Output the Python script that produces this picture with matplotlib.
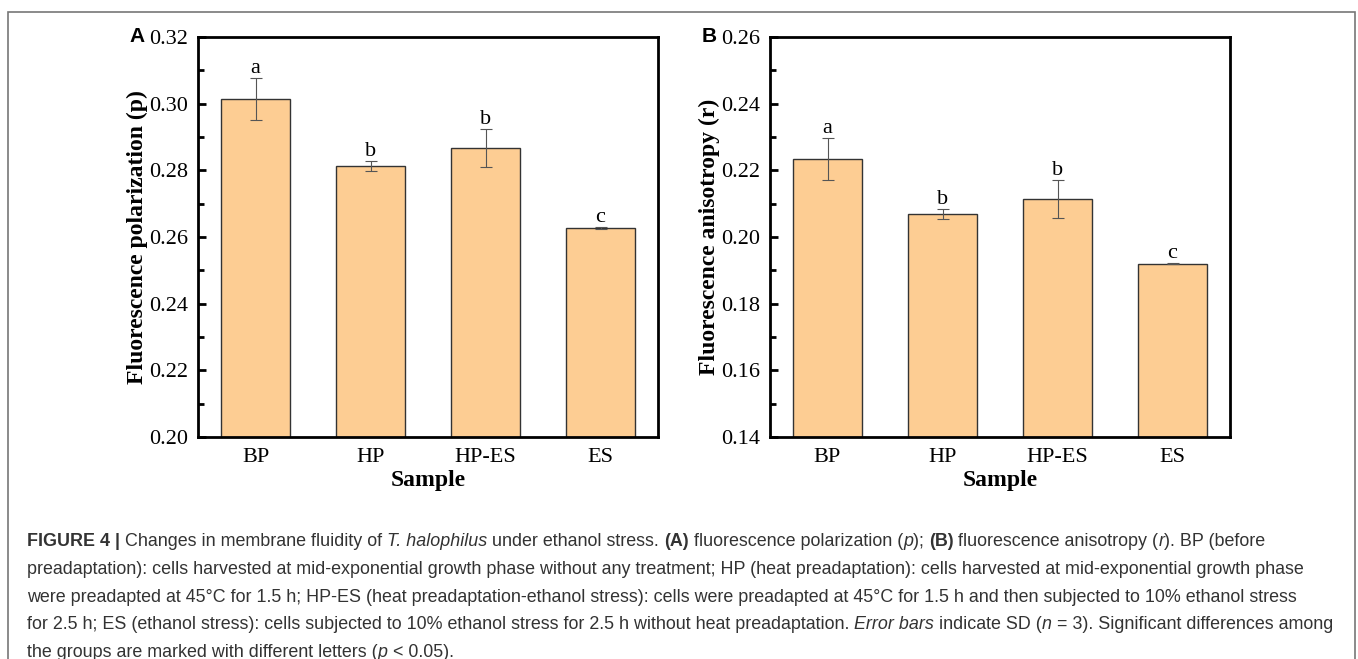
import numpy as np
import matplotlib.pyplot as plt
from matplotlib.patches import Rectangle

# données
samples = ["BP", "HP", "HP-ES", "ES"]
pol_mean = [0.3015, 0.2813, 0.2867, 0.2627]
pol_sd = [0.0063, 0.0016, 0.0056, 0.0002]
ani_mean = [0.2234, 0.2070, 0.2114, 0.1920]
ani_sd = [0.0062, 0.0015, 0.0056, 0.0002]
letters = ["a", "b", "b", "c"]

W, H = 1358, 659
fig = plt.figure(figsize=(W / 100, H / 100), dpi=100)

serif = ["Liberation Serif", "DejaVu Serif"]
sans = ["Liberation Sans", "DejaVu Sans"]


def panel(left_px, mean, sd, ylim, yticks, ylabel, tag):
    ax = fig.add_axes([left_px / W, (H - 437) / H, 460 / W, 400 / H])
    x = np.arange(1, len(samples) + 1)
    ax.bar(x, mean, width=0.6, color="#fdcd93", edgecolor="#333333", linewidth=1.0, zorder=2)
    ax.errorbar(x, mean, yerr=sd, fmt="none", ecolor="#555555", elinewidth=0.8,
                capsize=4, capthick=0.8, zorder=3)
    for xi, m, s, l in zip(x, mean, sd, letters):
        ax.annotate(l, (xi, m + s), xytext=(0, 0), textcoords="offset points",
                    ha="center", va="bottom", fontsize=16, family=serif)
    ax.set_xlim(0.5, 4.5)
    ax.set_ylim(*ylim)
    ax.set_xticks(x)
    ax.set_xticklabels(samples, family=serif, fontsize=16)
    ax.set_yticks(yticks)
    ax.set_yticklabels([f"{v:.2f}" for v in yticks], family=serif, fontsize=16)
    ax.set_yticks(np.arange(ylim[0] + 0.01, ylim[1], 0.02), minor=True)
    ax.tick_params(axis="y", which="major", direction="in", length=6, width=2, pad=7)
    ax.tick_params(axis="y", which="minor", direction="in", length=4, width=2)
    ax.tick_params(axis="x", length=0, pad=8)
    for sp in ax.spines.values():
        sp.set_linewidth(2)
    ax.set_xlabel("Sample", family=serif, fontsize=17, fontweight="bold", labelpad=2)
    ax.set_ylabel(ylabel, family=serif, fontsize=17, fontweight="bold", labelpad=1)
    fig.text((left_px - 61) / W, (H - 37) / H, tag, family=sans, fontsize=15,
             fontweight="bold", ha="center", va="center")
    return ax


panel(198, pol_mean, pol_sd, (0.20, 0.32), np.arange(0.20, 0.321, 0.02),
      "Fluorescence polarization (p)", "A")
panel(770, ani_mean, ani_sd, (0.14, 0.26), np.arange(0.14, 0.261, 0.02),
      "Fluorescence anisotropy (r)", "B")

# cadre extérieur
fig.patches.append(Rectangle((8 / W, -0.01), (1355 - 8) / W, (H - 12) / H + 0.01,
                             transform=fig.transFigure, fill=False,
                             edgecolor="#777777", linewidth=1.2))

# légende de la figure (texte enrichi)
caption = [
    [("FIGURE 4 | ", "bold"), ("Changes in membrane fluidity of ", ""), ("T. halophilus", "italic"),
     (" under ethanol stress. ", ""), ("(A)", "bold"), (" fluorescence polarization (", ""),
     ("p", "italic"), ("); ", ""), ("(B)", "bold"), (" fluorescence anisotropy (", ""),
     ("r", "italic"), ("). BP (before", "")],
    [("preadaptation): cells harvested at mid-exponential growth phase without any treatment; "
      "HP (heat preadaptation): cells harvested at mid-exponential growth phase", "")],
    [("were preadapted at 45°C for 1.5 h; HP-ES (heat preadaptation-ethanol stress): cells were "
      "preadapted at 45°C for 1.5 h and then subjected to 10% ethanol stress", "")],
    [("for 2.5 h; ES (ethanol stress): cells subjected to 10% ethanol stress for 2.5 h without "
      "heat preadaptation. ", ""), ("Error bars", "italic"), (" indicate SD (", ""),
     ("n", "italic"), (" = 3). Significant differences among", "")],
    [("the groups are marked with different letters (", ""), ("p", "italic"), (" < 0.05).", "")],
]
line_y = [546, 574, 602, 629, 657]  # lignes de base

renderer = fig.canvas.get_renderer()
for segs, yp in zip(caption, line_y):
    xp = 27
    for txt, st in segs:
        t = fig.text(xp / W, (H - yp) / H, txt, family=sans, fontsize=12.9, color="#333333",
                     fontweight="bold" if st == "bold" else "normal",
                     fontstyle="italic" if st == "italic" else "normal",
                     va="baseline", ha="left")
        xp += t.get_window_extent(renderer).width

fig.savefig("out.png", dpi=100)
